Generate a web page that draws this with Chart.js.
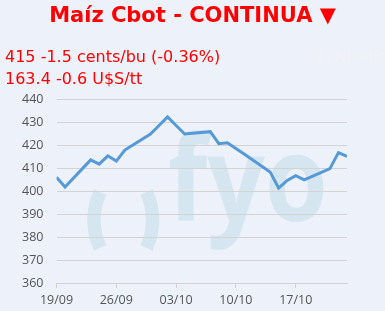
<!DOCTYPE html>
<html>
<head>
<meta charset="utf-8">
<script src="https://cdn.jsdelivr.net/npm/chart.js@4/dist/chart.umd.min.js"></script>
<style>
  html, body { margin: 0; padding: 0; background: #edf1fa; }
  #wrap { position: relative; width: 385px; height: 311px; overflow: hidden; }
  #chart { position: absolute; left: 0; top: 0; }
  .hdr { position: absolute; white-space: nowrap; color: #ff0000; font-family: "DejaVu Sans", Verdana, sans-serif; }
  #title { left: 0; width: 385px; top: 3px; text-align: center; font-weight: bold; font-size: 21px; }
  #l1 { left: 5px; top: 47px; font-size: 16px; }
  #l2 { left: 5px; top: 69px; font-size: 16px; }
  #err { left: 313px; top: 47px; font-size: 16px; color: #f0f2f6; }
</style>
</head>
<body>
<div id="wrap">
  <canvas id="chart" width="385" height="311"></canvas>
  <div class="hdr" id="title">Maíz Cbot - CONTINUA ▼</div>
  <div class="hdr" id="l1">415 -1.5 cents/bu (-0.36%)</div>
  <div class="hdr" id="l2">163.4 -0.6 U$S/tt</div>
  <div class="hdr" id="err">#¿NOMBRE?</div>
</div>
<script>
// Maíz Cbot, cents/bu, daily closes from 19/09 (day 0)
const days = [0, 1, 4, 5, 6, 7, 8, 11, 12, 13, 14, 15, 18, 19, 20, 21, 22, 25, 26, 27, 28, 29, 32, 33, 34];
const prices = [406, 401.7, 413.5, 411.7, 415.3, 413, 417.8, 424.8, 428.5, 432.2, 428.5, 424.8, 425.8, 420.6, 421, 418.5, 416, 408.3, 401.3, 404.6, 406.7, 404.8, 409.7, 416.7, 415];
const tickLabels = ["19/09", "26/09", "03/10", "10/10", "17/10"];

// faint "()fyo" watermark behind the grid
const watermark = {
  id: "watermark",
  beforeDraw(chart) {
    const ctx = chart.ctx;
    ctx.save();
    ctx.fillStyle = "#d5e6f0";
    ctx.strokeStyle = "#d5e6f0";
    ctx.lineWidth = 13.5;
    ctx.lineCap = "butt";
    ctx.beginPath();
    ctx.arc(161.3, 220, 67.3, Math.PI - 0.43, Math.PI + 0.43);
    ctx.stroke();
    ctx.beginPath();
    ctx.arc(85.3, 220, 67.3, -0.43, 0.43);
    ctx.stroke();
    ctx.font = "bold 118px 'Open Sans', sans-serif";
    ctx.textBaseline = "alphabetic";
    const w = ctx.measureText("fyo").width;
    ctx.translate(168, 221);
    ctx.scale(160 / w, 1);
    ctx.fillText("fyo", 0, 0);
    ctx.restore();
  },
};

const points = days.map((d, i) => ({ x: d, y: prices[i] }));

new Chart(document.getElementById("chart"), {
  type: "line",
  data: {
    datasets: [{
      data: points,
      borderColor: "#559ad6",
      borderWidth: 3,
      pointRadius: 0,
      tension: 0,
      fill: false,
    }],
  },
  options: {
    responsive: false,
    animation: false,
    layout: { padding: { top: 99, right: 38, bottom: 0, left: 0 } },
    plugins: { legend: { display: false }, tooltip: { enabled: false } },
    scales: {
      x: {
        type: "linear",
        min: 0,
        max: 34,
        afterBuildTicks: (s) => { s.ticks = tickLabels.map((_, i) => ({ value: i * 7 })); },
        afterFit: (s) => { s.height = 28; },
        ticks: {
          callback: (v) => tickLabels[v / 7],
          color: "#555",
          font: { family: "'Open Sans', sans-serif", size: 12.5 },
          padding: 5,
          maxRotation: 0,
        },
        grid: { drawOnChartArea: false, drawTicks: true, tickLength: 5, color: "#d3d3d3" },
        border: { color: "#d3d3d3" },
      },
      y: {
        min: 360,
        max: 440,
        afterFit: (s) => { s.width = 56.5; },
        ticks: {
          stepSize: 10,
          color: "#555",
          font: { family: "'Open Sans', sans-serif", size: 12.5 },
          padding: 13,
        },
        grid: { color: "#d3d3d3", drawTicks: false },
        border: { display: false },
      },
    },
  },
  plugins: [watermark],
});
</script>
</body>
</html>
